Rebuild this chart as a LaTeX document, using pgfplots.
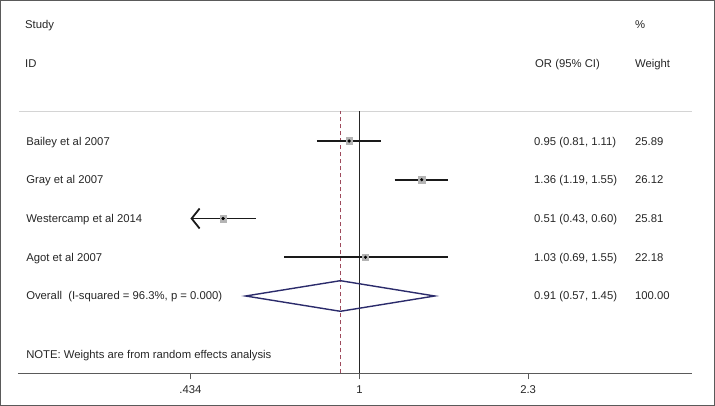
\documentclass[border=0pt]{standalone}
\usepackage{fontspec}
\setmainfont{Liberation Sans}
\usepackage{pgfplots}
\pgfplotsset{compat=1.18}
\usetikzlibrary{arrows.meta}
\definecolor{txt}{HTML}{262626}
\definecolor{axisgray}{HTML}{5A5A5A}
\definecolor{sepgray}{HTML}{D4D4D4}
\definecolor{ci}{HTML}{1A1A1A}
\definecolor{diam}{HTML}{2B2B6B}
\definecolor{refred}{HTML}{9E4A5C}
\definecolor{boxgray}{HTML}{B4B4B4}

\begin{document}
\begin{tikzpicture}[font=\fontsize{11.3}{13.5}\selectfont,
  lbl/.style={anchor=west, inner sep=0pt, text height=8pt, text depth=0pt, text=txt}]
\begin{axis}[
  width=674pt, height=373.5pt, scale only axis,
  xmode=log, xmin=0.1852, xmax=5.166,
  ymin=0, ymax=9.639,
  axis x line*=bottom, axis y line=none,
  axis line style={axisgray, line width=1.1pt},
  xtick={0.434,1,2.3}, xticklabels={.434,1,2.3},
  minor xtick={},
  xtick align=outside, major tick length=6pt,
  tick style={axisgray, line width=0.9pt},
  xticklabel style={text=txt, font=\fontsize{11.3}{13.5}\selectfont, yshift=-3pt},
  clip=false,
]
% outer frame of the graph region
\draw[axisgray, line width=1.4pt] (rel axis cs:-0.02567,-0.08514) rectangle (rel axis cs:1.03309,0.99813);

% header separator
\addplot[sepgray, line width=1pt] coordinates {(0.1861,6.774) (5.166,6.774)};

% reference lines: overall estimate and null
\addplot[refred, line width=0.8pt, dash pattern=on 4pt off 3pt] coordinates {(0.91,0) (0.91,6.774)};
\addplot[black!85, line width=0.9pt] coordinates {(1,0) (1,6.774)};

% study confidence intervals
\addplot[ci, line width=1.8pt] coordinates {(0.81,6) (1.11,6)};
\addplot[ci, line width=1.8pt] coordinates {(1.19,5) (1.55,5)};
\addplot[ci, line width=1.8pt, {Straight Barb[length=8pt,width=20pt]}-] coordinates {(0.434,4) (0.60,4)};
\addplot[ci, line width=1.8pt] coordinates {(0.69,3) (1.55,3)};

% weight boxes and point estimates
\addplot[only marks, mark=square*, mark size=3.4pt, mark options={draw=boxgray, fill=boxgray}]
  coordinates {(0.95,6) (1.36,5) (0.51,4)};
\addplot[only marks, mark=square*, mark size=3.1pt, mark options={draw=boxgray, fill=boxgray}]
  coordinates {(1.03,3)};
\addplot[only marks, mark=*, mark size=1.4pt, mark options={draw=black, fill=black}]
  coordinates {(0.95,6) (1.36,5) (0.51,4) (1.03,3)};

% pooled estimate
\addplot[diam, line width=1.4pt, line join=miter]
  coordinates {(0.57,2) (0.91,2.395) (1.45,2) (0.91,1.605)} -- cycle;

% text columns
\node[lbl] at (axis cs:0.1917,9) {Study};
\node[lbl] at (axis cs:0.1917,8) {ID};
\node[lbl] at (axis cs:3.898,9) {\%};
\node[lbl] at (axis cs:2.379,8) {OR (95\% CI)};
\node[lbl] at (axis cs:3.898,8) {Weight};

\node[lbl] at (axis cs:0.1927,6) {Bailey et al 2007};
\node[lbl] at (axis cs:0.1927,5) {Gray et al 2007};
\node[lbl] at (axis cs:0.1927,4) {Westercamp et al 2014};
\node[lbl] at (axis cs:0.1927,3) {Agot et al 2007};
\node[lbl] at (axis cs:0.1927,2) {Overall\ \ (I-squared = 96.3\%, p = 0.000)};

\node[lbl] at (axis cs:2.367,6) {0.95 (0.81, 1.11)};
\node[lbl] at (axis cs:2.367,5) {1.36 (1.19, 1.55)};
\node[lbl] at (axis cs:2.367,4) {0.51 (0.43, 0.60)};
\node[lbl] at (axis cs:2.367,3) {1.03 (0.69, 1.55)};
\node[lbl] at (axis cs:2.367,2) {0.91 (0.57, 1.45)};

\node[lbl] at (axis cs:3.898,6) {25.89};
\node[lbl] at (axis cs:3.898,5) {26.12};
\node[lbl] at (axis cs:3.898,4) {25.81};
\node[lbl] at (axis cs:3.898,3) {22.18};
\node[lbl] at (axis cs:3.898,2) {100.00};

\node[lbl] at (axis cs:0.1927,0.48) {NOTE: Weights are from random effects analysis};
\end{axis}
\end{tikzpicture}
\end{document}
